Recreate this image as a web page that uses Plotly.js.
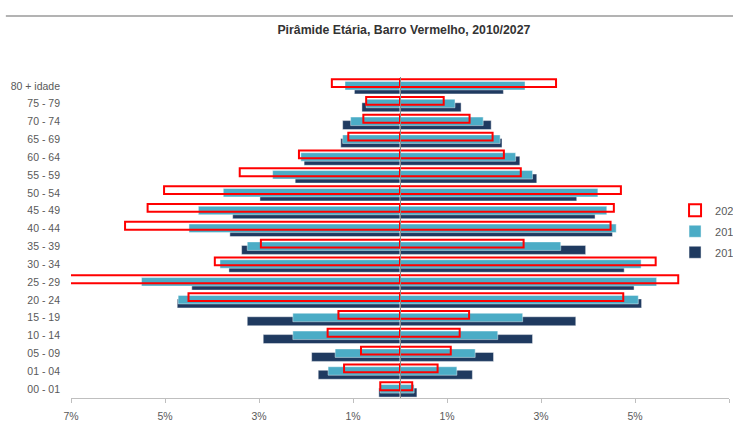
<!DOCTYPE html>
<html>
<head>
<meta charset="utf-8">
<script src="https://cdn.plot.ly/plotly-3.0.1.min.js"></script>
<style>html,body{margin:0;padding:0;background:#fff;}#chart{width:733px;height:423px;}</style>
</head>
<body>
<div id="chart"></div>
<script>
// Categories, bottom to top
var ageGroups = ["00 - 01","01 - 04","05 - 09","10 - 14","15 - 19","20 - 24","25 - 29","30 - 34","35 - 39","40 - 44","45 - 49","50 - 54","55 - 59","60 - 64","65 - 69","70 - 74","75 - 79","80 + idade"];

// Series names (legend, cut off at the page edge in the original)
var seriesNames = ["2027", "2017", "2010"];

// Percent of population, left side and right side of the pyramid
var s2027Left  = [0.42, 1.19, 0.83, 1.54, 1.31, 4.50, 7.30, 3.94, 2.96, 5.85, 5.37, 5.02, 3.41, 2.15, 1.10, 0.78, 0.72, 1.45];
var s2027Right = [0.26, 0.80, 1.08, 1.27, 1.47, 4.75, 5.92, 5.44, 2.63, 4.48, 4.55, 4.70, 2.57, 2.21, 1.97, 1.48, 0.93, 3.32];
var s2017Left  = [0.42, 1.53, 1.38, 2.28, 2.28, 4.72, 5.50, 3.83, 3.25, 4.49, 4.29, 3.76, 2.71, 2.11, 1.22, 1.05, 0.72, 1.17];
var s2017Right = [0.30, 1.21, 1.60, 2.08, 2.61, 5.07, 5.46, 5.13, 3.42, 4.60, 4.40, 4.21, 2.82, 2.46, 2.13, 1.77, 1.17, 2.66];
var s2010Left  = [0.45, 1.74, 1.88, 2.91, 3.25, 4.74, 4.43, 3.64, 3.37, 3.62, 3.56, 2.98, 2.23, 2.04, 1.26, 1.22, 0.81, 0.97];
var s2010Right = [0.36, 1.54, 1.99, 2.82, 3.74, 5.14, 4.98, 4.77, 3.95, 4.52, 4.15, 3.76, 2.91, 2.55, 2.17, 1.94, 1.30, 2.20];

var tickVals = [-7, -5, -3, -1, 1, 3, 5, 7];
var tickText = ["7%", "5%", "3%", "1%", "1%", "3%", "5%", "7%"];

function neg(a){ return a.map(function(v){ return -v; }); }

var styles = {
  "2027": {fill: "rgba(0,0,0,0)", line: "#ff0000", lw: 2, offset: -0.06, width: 0.44, rank: 1},
  "2017": {fill: "#4bacc6", line: "rgba(255,255,255,0.55)", lw: 0.8, offset: -0.224, width: 0.477, rank: 2},
  "2010": {fill: "#1f3a60", line: "rgba(255,255,255,0.55)", lw: 0.8, offset: -0.449, width: 0.505, rank: 3}
};

function makePair(name, left, right){
  var st = styles[name];
  var base = {
    type: "bar", orientation: "h", y: ageGroups,
    marker: {color: st.fill, line: {color: st.line, width: st.lw}},
    offset: st.offset, width: st.width,
    legendgroup: name, legendrank: st.rank, name: name,
    hoverinfo: "skip"
  };
  var l = Object.assign({}, base, {x: neg(left), showlegend: false});
  var r = Object.assign({}, base, {x: right.slice(), showlegend: true});
  return [l, r];
}

var data = [].concat(
  makePair(seriesNames[2], s2010Left, s2010Right),
  makePair(seriesNames[1], s2017Left, s2017Right),
  makePair(seriesNames[0], s2027Left, s2027Right)
);

var fontFam = "Liberation Sans, Arial, sans-serif";

var layout = {
  width: 733, height: 423,
  margin: {l: 71, r: 4, t: 77, b: 25, autoexpand: false},
  paper_bgcolor: "#ffffff", plot_bgcolor: "#ffffff",
  barmode: "overlay",
  font: {family: fontFam, size: 10.5, color: "#595959"},
  title: {
    text: "Pirâmide Etária, Barro Vermelho, 2010/2027",
    font: {family: fontFam, size: 12.3, color: "#333333", weight: "bold"},
    x: 0.551, xref: "container", xanchor: "center",
    y: 0.929, yref: "container", yanchor: "middle"
  },
  xaxis: {
    range: [-7, 7], fixedrange: true,
    tickvals: tickVals, ticktext: tickText,
    ticks: "outside", ticklen: 4, tickcolor: "#bfbfbf", tickwidth: 1,
    showline: true, linecolor: "#bfbfbf", linewidth: 1,
    showgrid: false,
    zeroline: true, zerolinecolor: "#8c8c8c", zerolinewidth: 1, zerolinelayer: "above traces",
    tickfont: {family: fontFam, size: 10.5, color: "#595959"},
    ticklabelstandoff: 4
  },
  yaxis: {
    type: "category", categoryorder: "array", categoryarray: ageGroups,
    range: [-0.5, 17.5], fixedrange: true,
    showgrid: false, zeroline: false, showline: false, ticks: "",
    tickfont: {family: fontFam, size: 10.5, color: "#595959"},
    ticklabelstandoff: 10
  },
  showlegend: true,
  legend: {
    x: 0.918, xanchor: "left", y: 0.63, yanchor: "top",
    bgcolor: "rgba(0,0,0,0)", borderwidth: 0,
    font: {family: fontFam, size: 11, color: "#595959"},
    itemwidth: 30, tracegroupgap: 2, traceorder: "grouped"
  },
  shapes: [{
    type: "line", xref: "paper", yref: "paper",
    x0: -0.099, x1: 1.01, y0: 1.19, y1: 1.19,
    line: {color: "#b3b3b3", width: 2}
  }]
};

Plotly.newPlot("chart", data, layout, {displayModeBar: false, staticPlot: true});
</script>
</body>
</html>
